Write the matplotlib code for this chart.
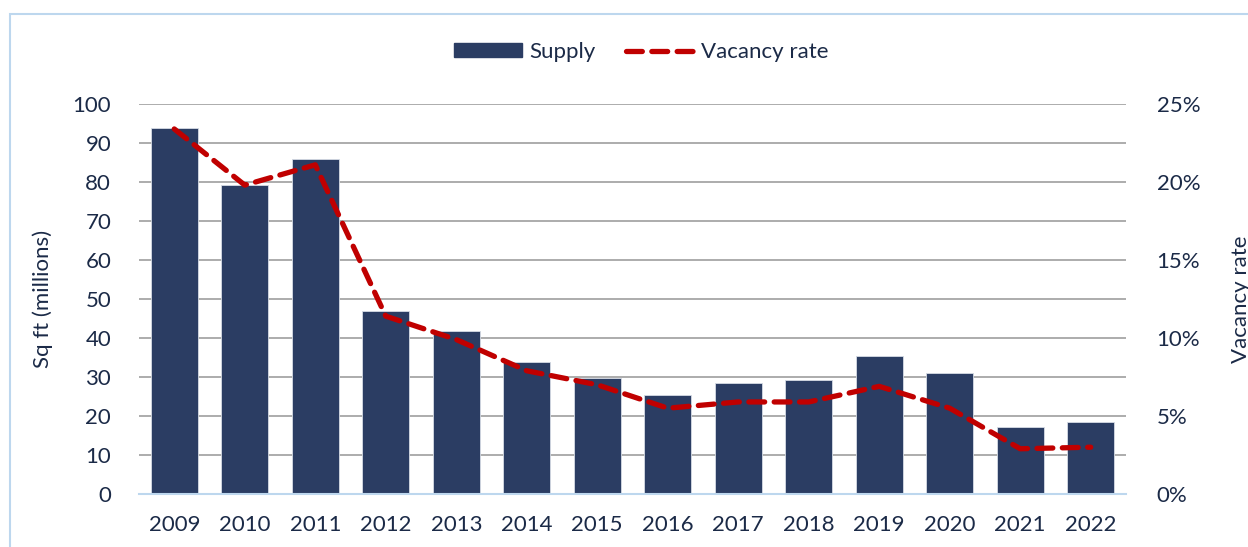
import matplotlib
matplotlib.use("Agg")
import matplotlib.pyplot as plt
from matplotlib.patches import Rectangle
from matplotlib.lines import Line2D
from matplotlib.ticker import FuncFormatter

plt.rcParams["font.family"] = ["Lato", "DejaVu Sans"]

# datos
years = ["2009", "2010", "2011", "2012", "2013", "2014", "2015",
         "2016", "2017", "2018", "2019", "2020", "2021", "2022"]
supply = [93.9, 79.2, 85.8, 47.0, 41.7, 33.8, 29.8,
          25.5, 28.5, 29.3, 35.4, 31.0, 17.3, 18.5]
vacancy = [23.4, 19.8, 21.1, 11.4, 9.9, 7.9, 7.0,
           5.5, 5.9, 5.9, 6.9, 5.5, 2.9, 3.0]

BAR = "#2B3D63"
LINE = "#C00000"
TXT = "#1B2A47"
GRID = "#A6A6A6"
EDGE = "#BDD7EE"
FS = 16

fig = plt.figure(figsize=(12.48, 5.47), dpi=100)
ax = fig.add_axes([0.1114, 0.0969, 0.7908, 0.713])
x = range(len(years))

ax.bar(x, supply, width=0.667, color=BAR, edgecolor="#D6DCE5", linewidth=0.6, zorder=2)
ax.set_ylim(0, 100)
ax.set_xlim(-0.5, len(years) - 0.5)
ax.set_yticks(range(0, 101, 10))
ax.yaxis.grid(True, color=GRID, linewidth=1.3, zorder=0)
ax.set_axisbelow(True)
ax.set_xticks(list(x))
ax.set_xticklabels(years)
for s in ["top", "right", "left"]:
    ax.spines[s].set_visible(False)
ax.spines["bottom"].set_color(EDGE)
ax.spines["bottom"].set_linewidth(1.5)
ax.tick_params(axis="both", length=0, labelsize=FS, colors=TXT)
ax.tick_params(axis="y", pad=20)
ax.tick_params(axis="x", pad=15)
ax.set_ylabel("Sq ft (millions)", fontsize=FS, color=TXT, labelpad=14)

ax2 = ax.twinx()
ax2.plot(x, vacancy, color=LINE, linewidth=3.8, linestyle=(0, (3, 1.8)),
         dash_capstyle="round", zorder=3)
ax2.set_ylim(0, 25)
ax2.set_yticks(range(0, 26, 5))
ax2.yaxis.set_major_formatter(FuncFormatter(lambda v, p: f"{v:.0f}%"))
for s in ax2.spines.values():
    s.set_visible(False)
ax2.tick_params(axis="y", length=0, labelsize=FS, colors=TXT, pad=22)
# en el original la etiqueta derecha queda cortada por el borde
ax2.set_ylabel("Vacancy rate", fontsize=FS, color=TXT, labelpad=22)

handles = [Rectangle((0, 0), 1, 1, color=BAR),
           Line2D([0], [0], color=LINE, linewidth=3.8, linestyle=(0, (3, 1.8)),
                  dash_capstyle="round")]
fig.legend(handles, ["Supply", "Vacancy rate"], loc="center", bbox_to_anchor=(0.514, 0.905),
           ncol=2, frameon=False, fontsize=FS, handlelength=3.06, handleheight=0.6,
           columnspacing=1.4, handletextpad=0.3, labelcolor=TXT)

# marco del gráfico (solo se ven los bordes izquierdo y superior)
fig.patches.append(Rectangle((10 / 1248, -0.05), 1.2, (547 - 14) / 547 + 0.05,
                             transform=fig.transFigure, fill=False,
                             edgecolor=EDGE, linewidth=1.5, clip_on=False))

fig.savefig("out.png", dpi=100)
